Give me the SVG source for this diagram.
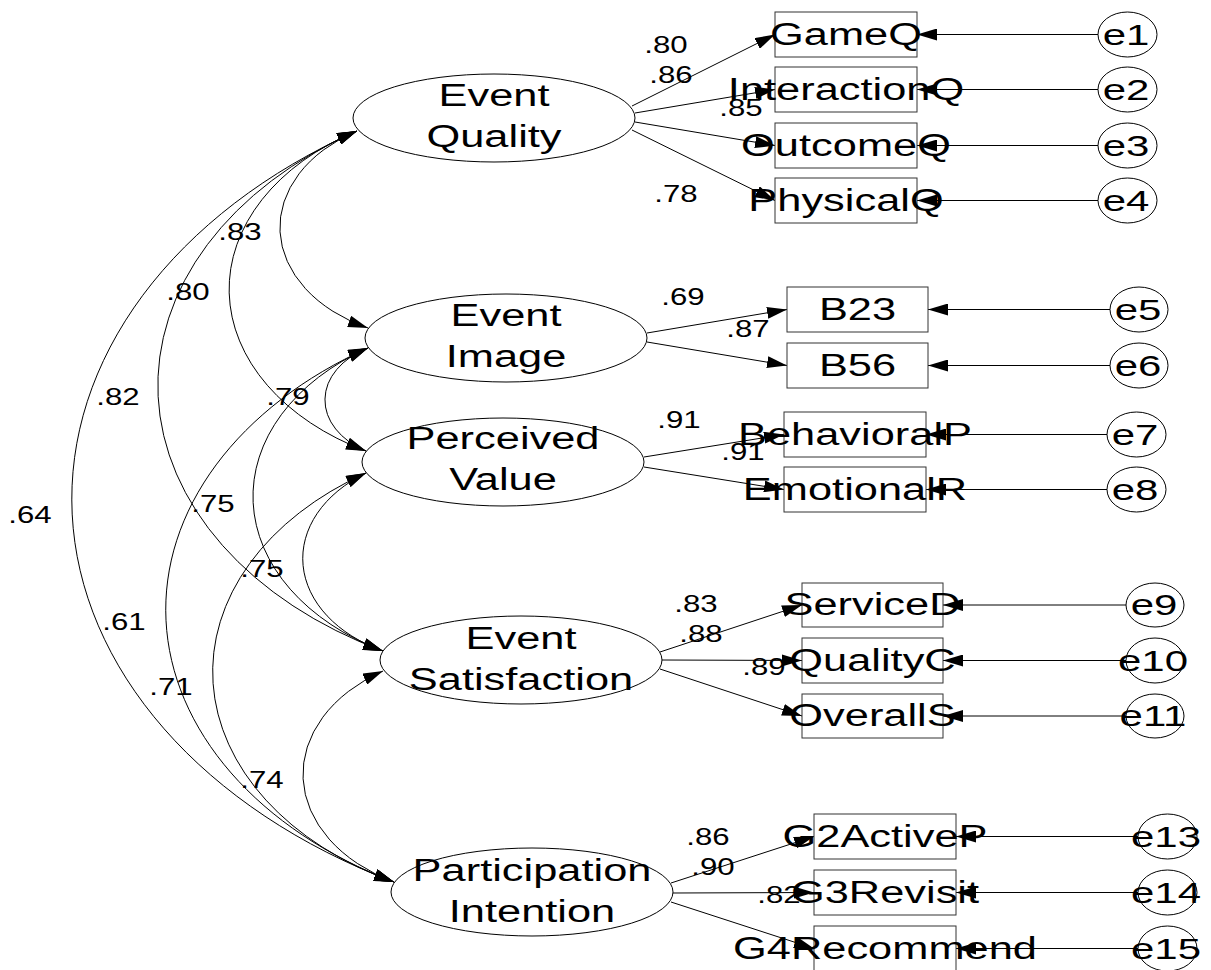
<svg xmlns="http://www.w3.org/2000/svg" width="1211" height="970" viewBox="0 0 1211 970">
  <defs>
    <marker id="head" markerUnits="userSpaceOnUse" viewBox="0 0 20 12" markerWidth="20" markerHeight="12" refX="20" refY="6" orient="auto-start-reverse">
      <path d="M0,0 L20,6 L0,12 z" fill="#000"/>
    </marker>
    <style>
      text { font-family: "Liberation Sans", Arial, sans-serif; fill: #000; text-anchor: middle; }
      .big { font-size: 31px; }
      .err text { font-size: 30px; }
      .num { font-size: 24px; }
      .latent ellipse { fill: #fff; stroke: #000; stroke-width: 1; }
      .obs rect { fill: none; stroke: #333; stroke-width: 1; }
      .err ellipse { fill: #fff; stroke: #000; stroke-width: 1; }
      #connectors path, #connectors line { fill: none; stroke: #000; stroke-width: 1; }
      .path { marker-end: url(#head); }
      .cov { marker-start: url(#head); marker-end: url(#head); }
    </style>
  </defs>
  <rect width="1211" height="970" fill="#fff"/>

  <g id="connectors">
    <!-- regression paths: latent -> indicator -->
    <line class="path" x1="632" y1="106" x2="775" y2="34.5"/>
    <line class="path" x1="635" y1="113" x2="775" y2="89.5"/>
    <line class="path" x1="635" y1="122" x2="775" y2="145.5"/>
    <line class="path" x1="632" y1="130" x2="775" y2="200.5"/>
    <line class="path" x1="647" y1="333" x2="787" y2="309.5"/>
    <line class="path" x1="647" y1="342" x2="787" y2="365.5"/>
    <line class="path" x1="644" y1="457" x2="784" y2="434.5"/>
    <line class="path" x1="644" y1="467" x2="784" y2="489.5"/>
    <line class="path" x1="660" y1="652" x2="802" y2="605"/>
    <line class="path" x1="662" y1="660" x2="802" y2="660.5"/>
    <line class="path" x1="660" y1="669" x2="802" y2="716"/>
    <line class="path" x1="671" y1="883" x2="814" y2="836.5"/>
    <line class="path" x1="673" y1="893" x2="814" y2="892.5"/>
    <line class="path" x1="671" y1="902" x2="814" y2="948.5"/>
    <!-- error terms -> indicator -->
    <line class="path" x1="1098" y1="34.5" x2="917" y2="34.5"/>
    <line class="path" x1="1098" y1="89.5" x2="917" y2="89.5"/>
    <line class="path" x1="1098" y1="145.5" x2="917" y2="145.5"/>
    <line class="path" x1="1098" y1="200.5" x2="917" y2="200.5"/>
    <line class="path" x1="1110" y1="309.5" x2="928" y2="309.5"/>
    <line class="path" x1="1110" y1="365.5" x2="928" y2="365.5"/>
    <line class="path" x1="1107" y1="434.5" x2="926" y2="434.5"/>
    <line class="path" x1="1107" y1="489.5" x2="926" y2="489.5"/>
    <line class="path" x1="1126" y1="605" x2="943" y2="605"/>
    <line class="path" x1="1126" y1="660.5" x2="943" y2="660.5"/>
    <line class="path" x1="1126" y1="716" x2="943" y2="716"/>
    <line class="path" x1="1138" y1="836.5" x2="956" y2="836.5"/>
    <line class="path" x1="1138" y1="892.5" x2="956" y2="892.5"/>
    <line class="path" x1="1138" y1="948.5" x2="956" y2="948.5"/>
    <!-- covariances between latent factors -->
    <path class="cov" d="M357,131 A156.7,111.9 0 0 0 368,328"/>
    <path class="cov" d="M357,131 A255.7,182.7 0 0 0 366,451"/>
    <path class="cov" d="M357,131 A418.9,299.2 0 0 0 383,651"/>
    <path class="cov" d="M357,131 A607.6,434 0 0 0 394,882"/>
    <path class="cov" d="M368,348 A82.9,59.2 0 0 0 366,451"/>
    <path class="cov" d="M368,348 A245.1,175.1 0 0 0 383,651"/>
    <path class="cov" d="M368,348 A432.8,309.1 0 0 0 394,882"/>
    <path class="cov" d="M366,473 A144.8,103.4 0 0 0 383,651"/>
    <path class="cov" d="M366,473 A329.5,235.3 0 0 0 394,882"/>
    <path class="cov" d="M383,671 A170.5,121.8 0 0 0 394,882"/>
  </g>

  <!-- latent factors -->
  <g id="event-quality" class="latent">
    <ellipse cx="494" cy="118" rx="141" ry="44"/>
    <text class="big" transform="translate(494 106) scale(1.4 1)">Event</text>
    <text class="big" transform="translate(494 147) scale(1.4 1)">Quality</text>
  </g>
  <g id="event-image" class="latent">
    <ellipse cx="506" cy="338" rx="141" ry="44"/>
    <text class="big" transform="translate(506 326) scale(1.4 1)">Event</text>
    <text class="big" transform="translate(506 367) scale(1.4 1)">Image</text>
  </g>
  <g id="perceived-value" class="latent">
    <ellipse cx="503" cy="462" rx="141" ry="44"/>
    <text class="big" transform="translate(503 449) scale(1.4 1)">Perceived</text>
    <text class="big" transform="translate(503 490) scale(1.4 1)">Value</text>
  </g>
  <g id="event-satisfaction" class="latent">
    <ellipse cx="521" cy="660" rx="141" ry="44"/>
    <text class="big" transform="translate(521 649) scale(1.4 1)">Event</text>
    <text class="big" transform="translate(521 690) scale(1.4 1)">Satisfaction</text>
  </g>
  <g id="participation-intention" class="latent">
    <ellipse cx="532" cy="892" rx="141" ry="44"/>
    <text class="big" transform="translate(532 881) scale(1.4 1)">Participation</text>
    <text class="big" transform="translate(532 922) scale(1.4 1)">Intention</text>
  </g>

  <!-- observed indicators -->
  <g id="GameQ" class="obs"><rect x="775" y="12" width="142" height="45"/><text class="big" transform="translate(846 44.5) scale(1.4 1)">GameQ</text></g>
  <g id="InteractionQ" class="obs"><rect x="775" y="67" width="142" height="45"/><text class="big" transform="translate(846 99.5) scale(1.4 1)">InteractionQ</text></g>
  <g id="OutcomeQ" class="obs"><rect x="775" y="123" width="142" height="45"/><text class="big" transform="translate(846 155.5) scale(1.4 1)">OutcomeQ</text></g>
  <g id="PhysicalQ" class="obs"><rect x="775" y="178" width="142" height="45"/><text class="big" transform="translate(846 210.5) scale(1.4 1)">PhysicalQ</text></g>
  <g id="B23" class="obs"><rect x="787" y="287" width="141" height="45"/><text class="big" transform="translate(857.5 319.5) scale(1.4 1)">B23</text></g>
  <g id="B56" class="obs"><rect x="787" y="343" width="141" height="45"/><text class="big" transform="translate(857.5 375.5) scale(1.4 1)">B56</text></g>
  <g id="BehavioralP" class="obs"><rect x="784" y="412" width="142" height="45"/><text class="big" transform="translate(855 444.5) scale(1.4 1)">BehavioralP</text></g>
  <g id="EmotionalR" class="obs"><rect x="784" y="467" width="142" height="45"/><text class="big" transform="translate(855 499.5) scale(1.4 1)">EmotionalR</text></g>
  <g id="ServiceD" class="obs"><rect x="802" y="583" width="141" height="44"/><text class="big" transform="translate(872.5 615) scale(1.4 1)">ServiceD</text></g>
  <g id="QualityC" class="obs"><rect x="802" y="638" width="141" height="45"/><text class="big" transform="translate(872.5 670.5) scale(1.4 1)">QualityC</text></g>
  <g id="OverallS" class="obs"><rect x="802" y="694" width="141" height="44"/><text class="big" transform="translate(872.5 726) scale(1.4 1)">OverallS</text></g>
  <g id="G2ActiveP" class="obs"><rect x="814" y="814" width="142" height="45"/><text class="big" transform="translate(885 846.5) scale(1.4 1)">G2ActiveP</text></g>
  <g id="G3Revisit" class="obs"><rect x="814" y="870" width="142" height="45"/><text class="big" transform="translate(885 902.5) scale(1.4 1)">G3Revisit</text></g>
  <g id="G4Recommend" class="obs"><rect x="814" y="926" width="142" height="45"/><text class="big" transform="translate(885 958.5) scale(1.4 1)">G4Recommend</text></g>

  <!-- error terms -->
  <g id="e1" class="err"><ellipse cx="1127.5" cy="34.5" rx="29.5" ry="22.5"/><text transform="translate(1126 44.5) scale(1.4 1)">e1</text></g>
  <g id="e2" class="err"><ellipse cx="1127.5" cy="89.5" rx="29.5" ry="22.5"/><text transform="translate(1126 99.5) scale(1.4 1)">e2</text></g>
  <g id="e3" class="err"><ellipse cx="1127.5" cy="145.5" rx="29.5" ry="22.5"/><text transform="translate(1126 155.5) scale(1.4 1)">e3</text></g>
  <g id="e4" class="err"><ellipse cx="1127.5" cy="200.5" rx="29.5" ry="22.5"/><text transform="translate(1126 210.5) scale(1.4 1)">e4</text></g>
  <g id="e5" class="err"><ellipse cx="1139" cy="309.5" rx="29" ry="22.5"/><text transform="translate(1138 319.5) scale(1.4 1)">e5</text></g>
  <g id="e6" class="err"><ellipse cx="1139" cy="365.5" rx="29" ry="22.5"/><text transform="translate(1138 375.5) scale(1.4 1)">e6</text></g>
  <g id="e7" class="err"><ellipse cx="1136.5" cy="434.5" rx="29.5" ry="22.5"/><text transform="translate(1135 444.5) scale(1.4 1)">e7</text></g>
  <g id="e8" class="err"><ellipse cx="1136.5" cy="489.5" rx="29.5" ry="22.5"/><text transform="translate(1135 499.5) scale(1.4 1)">e8</text></g>
  <g id="e9" class="err"><ellipse cx="1155" cy="605" rx="29" ry="22"/><text transform="translate(1154 615) scale(1.4 1)">e9</text></g>
  <g id="e10" class="err"><ellipse cx="1155" cy="660.5" rx="29" ry="22.5"/><text transform="translate(1153 670.5) scale(1.4 1)">e10</text></g>
  <g id="e11" class="err"><ellipse cx="1155" cy="716" rx="29" ry="22"/><text transform="translate(1153 726) scale(1.4 1)">e11</text></g>
  <g id="e13" class="err"><ellipse cx="1167.5" cy="836.5" rx="29.5" ry="22.5"/><text transform="translate(1166 846.5) scale(1.4 1)">e13</text></g>
  <g id="e14" class="err"><ellipse cx="1167.5" cy="892.5" rx="29.5" ry="22.5"/><text transform="translate(1166 902.5) scale(1.4 1)">e14</text></g>
  <g id="e15" class="err"><ellipse cx="1167.5" cy="948.5" rx="29.5" ry="22.5"/><text transform="translate(1166 958.5) scale(1.4 1)">e15</text></g>

  <!-- standardized estimates -->
  <g id="estimates" class="num">
    <text transform="translate(666 53) scale(1.3 1)">.80</text>
    <text transform="translate(671 83) scale(1.3 1)">.86</text>
    <text transform="translate(741 116) scale(1.3 1)">.85</text>
    <text transform="translate(676 202) scale(1.3 1)">.78</text>
    <text transform="translate(683 305) scale(1.3 1)">.69</text>
    <text transform="translate(748 337) scale(1.3 1)">.87</text>
    <text transform="translate(679 428) scale(1.3 1)">.91</text>
    <text transform="translate(743 460) scale(1.3 1)">.91</text>
    <text transform="translate(696 612) scale(1.3 1)">.83</text>
    <text transform="translate(701 642) scale(1.3 1)">.88</text>
    <text transform="translate(764 675) scale(1.3 1)">.89</text>
    <text transform="translate(708 845) scale(1.3 1)">.86</text>
    <text transform="translate(713 875) scale(1.3 1)">.90</text>
    <text transform="translate(779 903) scale(1.3 1)">.82</text>
    <text transform="translate(240 240) scale(1.3 1)">.83</text>
    <text transform="translate(188 300) scale(1.3 1)">.80</text>
    <text transform="translate(118 405) scale(1.3 1)">.82</text>
    <text transform="translate(30 523) scale(1.3 1)">.64</text>
    <text transform="translate(288 405) scale(1.3 1)">.79</text>
    <text transform="translate(213 512) scale(1.3 1)">.75</text>
    <text transform="translate(262 577) scale(1.3 1)">.75</text>
    <text transform="translate(124 630) scale(1.3 1)">.61</text>
    <text transform="translate(171 695) scale(1.3 1)">.71</text>
    <text transform="translate(262 788) scale(1.3 1)">.74</text>
  </g>
</svg>
